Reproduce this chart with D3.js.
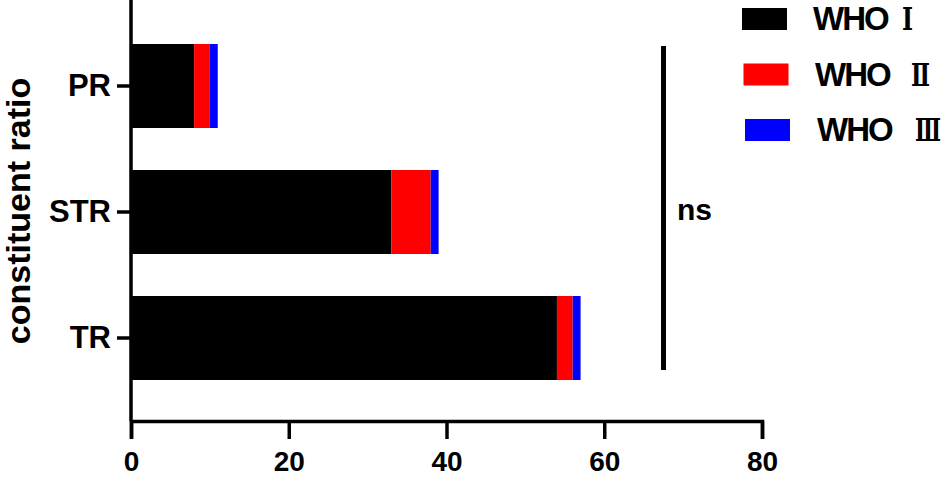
<!DOCTYPE html>
<html>
<head>
<meta charset="utf-8">
<script src="https://cdn.jsdelivr.net/npm/d3@7"></script>
<style>
  body { margin: 0; background: #fff; }
  svg text { font-family: "Liberation Sans", Arial, "Noto Sans CJK SC", sans-serif; font-weight: bold; }
</style>
</head>
<body>
<svg id="chart" width="945" height="478"></svg>
<script>
// values
const categories = ['PR', 'STR', 'TR'];
const whoOne = [8, 33, 54];
const whoTwo = [2, 5, 2];
const whoThree = [1, 1, 1];
const seriesNames = ['WHO Ⅰ', 'WHO Ⅱ', 'WHO Ⅲ'];
const seriesColors = ['#000000', '#ff0000', '#0000ff'];
const xTicks = [0, 20, 40, 60, 80];

const svg = d3.select('#chart');

const x = d3.scaleLinear().domain([0, 80]).range([131, 762]);
const y = d3.scaleBand()
	.domain(categories)
	.range([23, 401])
	.paddingInner(1 / 3)
	.paddingOuter(1 / 6);

const rows = categories.map((c, i) => ({cat: c, s0: whoOne[i], s1: whoTwo[i], s2: whoThree[i]}));
const stacked = d3.stack().keys(['s0', 's1', 's2'])(rows);

// stacked bars
svg.append('g')
	.selectAll('g')
	.data(stacked)
	.enter().append('g')
	.attr('fill', (d, i) => seriesColors[i])
	.selectAll('rect')
	.data((d) => d)
	.enter().append('rect')
	.attr('x', (d) => x(d[0]))
	.attr('y', (d) => y(d.data.cat))
	.attr('width', (d) => x(d[1]) - x(d[0]))
	.attr('height', y.bandwidth());

// x axis
const xAxis = svg.append('g')
	.attr('transform', 'translate(0,421)')
	.call(d3.axisBottom(x).tickValues(xTicks).tickSize(18).tickSizeOuter(18).tickPadding(12));
xAxis.select('.domain').attr('stroke-width', 3.5);
xAxis.selectAll('.tick line').attr('stroke-width', 3.5);
xAxis.selectAll('.tick text').attr('font-size', 28).attr('fill', '#000');

// y axis
const yAxis = svg.append('g')
	.attr('transform', 'translate(131,0)')
	.call(d3.axisLeft(y).tickSize(14).tickSizeOuter(0).tickPadding(6));
yAxis.select('.domain').attr('d', 'M0,0V421').attr('stroke-width', 3.5);
yAxis.selectAll('.tick line').attr('stroke-width', 3.5);
yAxis.selectAll('.tick text').attr('font-size', 31).attr('fill', '#000');

// axis title
svg.append('text')
	.attr('transform', 'translate(30,211) rotate(-90)')
	.attr('text-anchor', 'middle')
	.attr('font-size', 34)
	.text('constituent ratio');

// significance bracket
svg.append('line')
	.attr('x1', 663.5).attr('x2', 663.5)
	.attr('y1', y('PR') + 2).attr('y2', 370)
	.attr('stroke', '#000')
	.attr('stroke-width', 5);
svg.append('text')
	.attr('x', 677)
	.attr('y', 220)
	.attr('font-size', 30)
	.text('ns');

// legend
const numeralLeft = [902, 911, 915];
const numeralWidth = [11, 19, 26];
const legend = svg.append('g')
	.selectAll('g')
	.data(seriesNames)
	.enter().append('g')
	.attr('transform', (d, i) => 'translate(0,' + (8 + i * 55.5) + ')');
legend.append('rect')
	.attr('x', (d, i) => 742 + i * 1.5)
	.attr('width', 45)
	.attr('height', 22)
	.attr('fill', (d, i) => seriesColors[i]);
legend.append('text')
	.attr('x', (d, i) => 813 + i * 2)
	.attr('y', 22)
	.attr('font-size', 33)
	.attr('letter-spacing', -2)
	.text((d) => d.split(' ')[0]);
legend.append('text')
	.attr('x', (d, i) => numeralLeft[i])
	.attr('y', 22)
	.attr('font-size', 32)
	.attr('textLength', (d, i) => numeralWidth[i])
	.attr('lengthAdjust', 'spacingAndGlyphs')
	.style('font-family', '"DejaVu Serif", serif')
	.text((d) => d.split(' ')[1]);
</script>
</body>
</html>
